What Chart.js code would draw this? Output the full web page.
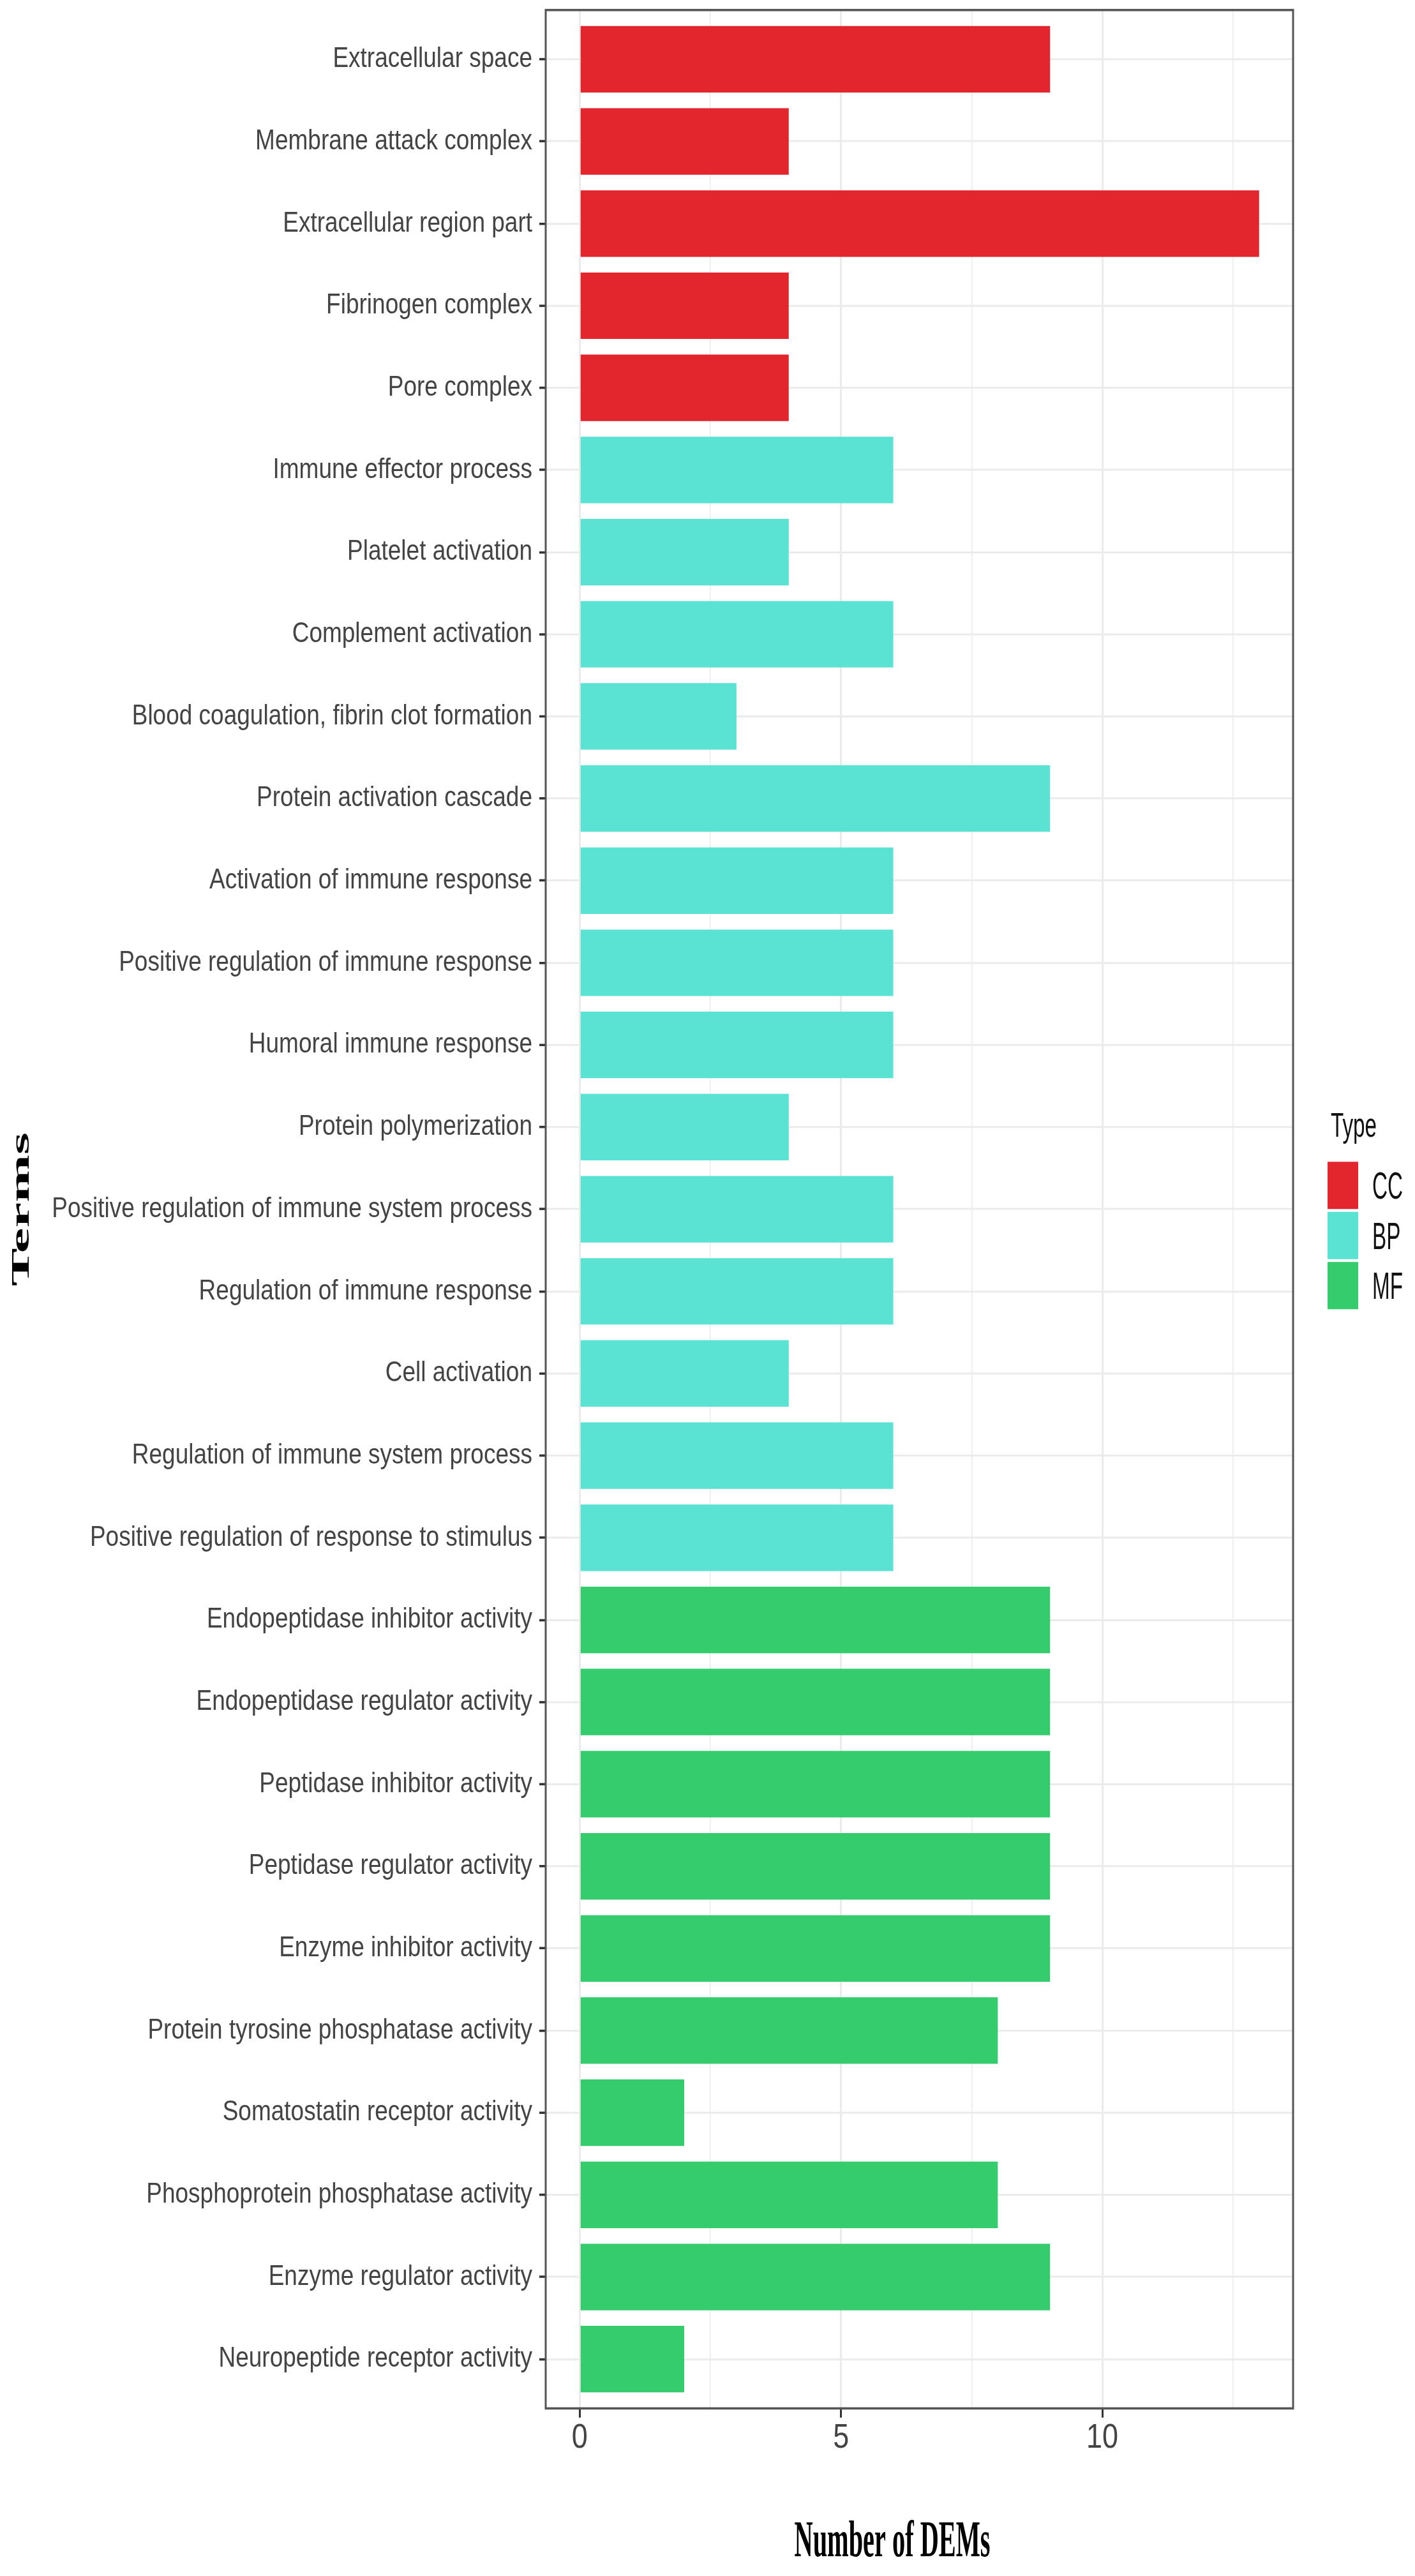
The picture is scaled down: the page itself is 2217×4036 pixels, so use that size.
<!DOCTYPE html>
<html>
<head>
<meta charset="utf-8">
<script src="https://cdn.jsdelivr.net/npm/chart.js@4.4.1/dist/chart.umd.min.js"></script>
<style>
html, body { margin: 0; padding: 0; background: #ffffff; }
canvas { display: block; }
</style>
</head>
<body>
<canvas id="c" width="2217" height="4036"></canvas>
<script>
// ---------------- data ----------------
const terms = [
  'Extracellular space',
  'Membrane attack complex',
  'Extracellular region part',
  'Fibrinogen complex',
  'Pore complex',
  'Immune effector process',
  'Platelet activation',
  'Complement activation',
  'Blood coagulation, fibrin clot formation',
  'Protein activation cascade',
  'Activation of immune response',
  'Positive regulation of immune response',
  'Humoral immune response',
  'Protein polymerization',
  'Positive regulation of immune system process',
  'Regulation of immune response',
  'Cell activation',
  'Regulation of immune system process',
  'Positive regulation of response to stimulus',
  'Endopeptidase inhibitor activity',
  'Endopeptidase regulator activity',
  'Peptidase inhibitor activity',
  'Peptidase regulator activity',
  'Enzyme inhibitor activity',
  'Protein tyrosine phosphatase activity',
  'Somatostatin receptor activity',
  'Phosphoprotein phosphatase activity',
  'Enzyme regulator activity',
  'Neuropeptide receptor activity'
];
const counts = [9, 4, 13, 4, 4, 6, 4, 6, 3, 9, 6, 6, 6, 4, 6, 6, 4, 6, 6, 9, 9, 9, 9, 9, 8, 2, 8, 9, 2];
const termTypes = ['CC','CC','CC','CC','CC',
  'BP','BP','BP','BP','BP','BP','BP','BP','BP','BP','BP','BP','BP','BP',
  'MF','MF','MF','MF','MF','MF','MF','MF','MF','MF'];
const typeNames = ['CC', 'BP', 'MF'];
const typeColors = ['#E3262E', '#5AE2D2', '#35CC6D'];
const xMajorTicks = [0, 5, 10];
const xMinorTicks = [2.5, 7.5, 12.5];
const xTitle = 'Number of DEMs';
const yTitle = 'Terms';
const legendTitle = 'Type';

// ---------------- layout (logical px; drawing is stretched vertically by SY) ----------------
const SY = 4036 / 3363;
const PLOT_BOTTOM = 3144.2;
const SANS = '"Liberation Sans", Arial, Helvetica, sans-serif';
const SERIF = '"Liberation Serif", "Times New Roman", Times, serif';

function drawScaledText(ctx, text, x, y, font, targetWidth, align) {
  ctx.save();
  ctx.font = font;
  const w = ctx.measureText(text).width;
  const k = targetWidth / w;
  ctx.translate(x, y);
  ctx.scale(k, 1);
  ctx.textAlign = align;
  ctx.textBaseline = 'alphabetic';
  ctx.fillText(text, 0, 0);
  ctx.restore();
}

const stretchAndDecorate = {
  id: 'stretchAndDecorate',
  beforeDraw(chart) {
    const ctx = chart.ctx;
    ctx.save();
    ctx.fillStyle = '#ffffff';
    ctx.fillRect(0, 0, chart.width, chart.height);
    ctx.scale(1, SY);
  },
  afterDatasetsDraw(chart) {
    const { ctx, chartArea: a } = chart;
    ctx.save();
    ctx.strokeStyle = '#555555';
    ctx.lineWidth = 3;
    ctx.strokeRect(a.left, a.top, a.right - a.left, a.bottom - a.top);
    ctx.restore();
  },
  afterDraw(chart) {
    const ctx = chart.ctx;
    const a = chart.chartArea;
    ctx.save();
    ctx.fillStyle = '#000000';

    // y axis title (rotated)
    ctx.save();
    ctx.font = 'bold 41px ' + SERIF;
    const wy = ctx.measureText(yTitle).width;
    ctx.translate(45, (a.top + a.bottom) / 2);
    ctx.rotate(-Math.PI / 2);
    ctx.scale(201 / wy, 1);
    ctx.textAlign = 'center';
    ctx.textBaseline = 'alphabetic';
    ctx.fillText(yTitle, 0, 0);
    ctx.restore();

    // x axis title
    drawScaledText(ctx, xTitle, 1398, 3337.5, 'bold 67px ' + SERIF, 307, 'center');

    // legend title
    ctx.fillStyle = '#111111';
    drawScaledText(ctx, legendTitle, 2085, 1484, '44px ' + SANS, 72, 'left');

    // legend keys + labels
    const keyX = 2080, keyW = 48, keyTop = 1516.7, keyH = 61.7, pitch = 65.4;
    ctx.font = '49px ' + SANS;
    const kLab = 48 / ctx.measureText('MF').width;
    typeNames.forEach((name, i) => {
      const top = keyTop + i * pitch;
      ctx.fillStyle = typeColors[i];
      ctx.fillRect(keyX, top, keyW, keyH);
      ctx.fillStyle = '#111111';
      ctx.save();
      ctx.font = '49px ' + SANS;
      ctx.translate(2150, top + keyH / 2 + 17.5);
      ctx.scale(kLab, 1);
      ctx.textAlign = 'left';
      ctx.textBaseline = 'alphabetic';
      ctx.fillText(name, 0, 0);
      ctx.restore();
    });
    ctx.restore();
    ctx.restore(); // undo the stretch from beforeDraw
  }
};

const isMajor = v => xMajorTicks.includes(v);

new Chart(document.getElementById('c'), {
  type: 'bar',
  data: {
    datasets: [{
      label: xTitle,
      data: terms.map((t, i) => ({ x: counts[i], y: i })),
      backgroundColor: termTypes.map(t => typeColors[typeNames.indexOf(t)]),
      borderWidth: 0,
      barPercentage: 0.81,
      categoryPercentage: 1.0
    }]
  },
  options: {
    indexAxis: 'y',
    responsive: false,
    animation: false,
    devicePixelRatio: 1,
    events: [],
    layout: { padding: { left: 0, top: 13.1, right: 191, bottom: 0 } },
    plugins: { legend: { display: false }, tooltip: { enabled: false } },
    scales: {
      x: {
        type: 'linear',
        position: 'bottom',
        offset: false,
        min: -0.65,
        max: 13.65,
        afterBuildTicks: s => { s.ticks = xMajorTicks.concat(xMinorTicks).sort((p, q) => p - q).map(v => ({ value: v })); },
        afterFit: s => { s.height = s.chart.height - PLOT_BOTTOM; s.paddingLeft = 0; s.paddingRight = 0; },
        ticks: {
          autoSkip: false,
          maxRotation: 0,
          padding: 0,
          color: '#444444',
          font: { family: SANS, size: 45 },
          callback: v => (isMajor(v) ? String(v) : '')
        },
        grid: {
          offset: false,
          color: '#EBEBEB',
          lineWidth: c => (c.tick && isMajor(c.tick.value) ? 3 : 1.6),
          tickLength: 12,
          tickWidth: 3,
          tickColor: c => (c.tick && isMajor(c.tick.value) ? '#333333' : 'rgba(0,0,0,0)')
        },
        border: { display: false }
      },
      y: {
        type: 'linear',
        position: 'left',
        offset: false,
        min: -0.6,
        max: 28.6,
        reverse: true,
        afterBuildTicks: s => { s.ticks = terms.map((t, i) => ({ value: i })); },
        afterFit: s => { s.width = 855; s.paddingTop = 0; s.paddingBottom = 0; },
        ticks: {
          autoSkip: false,
          padding: 11,
          color: '#444444',
          font: { family: SANS, size: 37 },
          callback: v => terms[v]
        },
        grid: {
          offset: false,
          color: '#EBEBEB',
          lineWidth: 2.5,
          tickLength: 10,
          tickWidth: 3,
          tickColor: '#333333'
        },
        border: { display: false }
      }
    }
  },
  plugins: [stretchAndDecorate]
});
</script>
</body>
</html>
